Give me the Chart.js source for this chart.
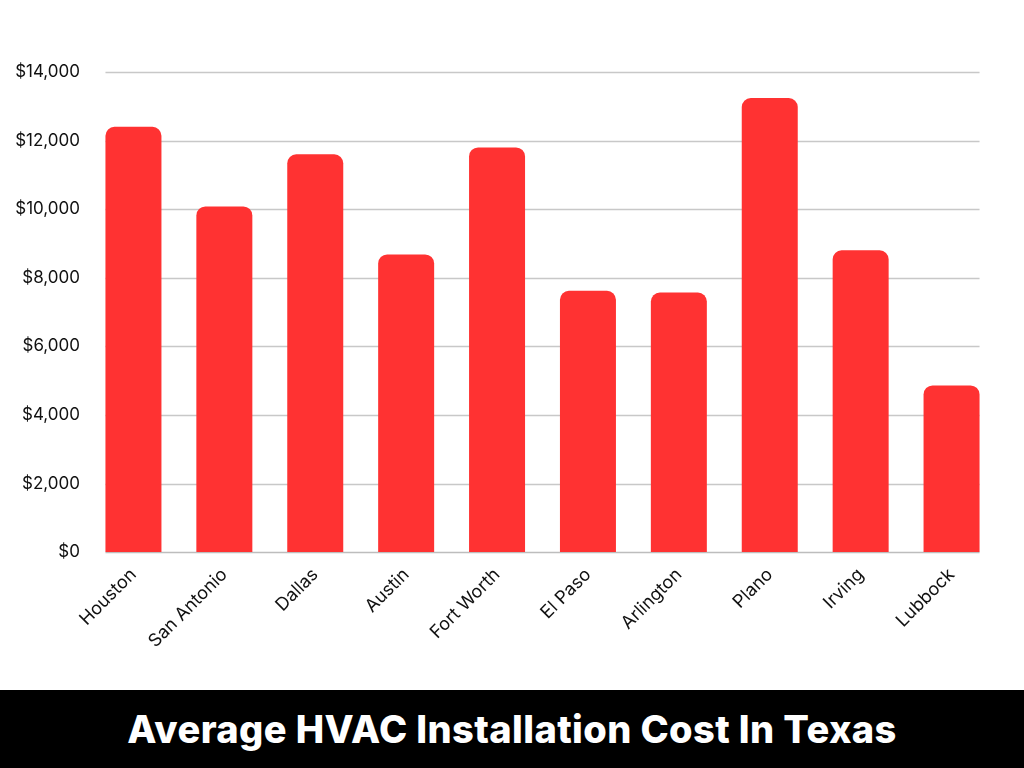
<!DOCTYPE html>
<html lang="en">
<head>
    <meta charset="UTF-8">
    <title>Average HVAC Installation Cost In Texas</title>
    <style>
        * { margin: 0; padding: 0; box-sizing: border-box; }
        html, body { width: 1024px; height: 768px; background: #fff; overflow: hidden; }
        .chart-wrap { position: relative; width: 1024px; height: 690px; }
        .title-bar {
            height: 78px;
            background: #000;
            color: #fff;
            display: flex;
            align-items: center;
            justify-content: center;
            font-family: Inter, "Open Sans", sans-serif;
            font-weight: 800;
            font-size: 38px;
            letter-spacing: 0.4px;
        }
    </style>
    <script src="https://cdn.jsdelivr.net/npm/chart.js"></script>
</head>
<body>
    <div class="chart-wrap"><canvas id="costChart"></canvas></div>
    <div class="title-bar">Average HVAC Installation Cost In Texas</div>

    <script>
        // city names and average install cost (USD)
        const cities = ['Houston', 'San Antonio', 'Dallas', 'Austin', 'Fort Worth',
                        'El Paso', 'Arlington', 'Plano', 'Irving', 'Lubbock'];
        const avgCost = [12400, 10080, 11600, 8680, 11800, 7620, 7570, 13240, 8800, 4860];
        const yMax = 14000;
        const yStep = 2000;

        const yFont = { family: 'Inter, "Open Sans", sans-serif', size: 17 };
        const xFont = { family: 'Inter, "Open Sans", sans-serif', size: 18 };

        // gridlines in the original only run from the first bar's left edge
        // to the last bar's right edge, so draw them here instead of grid.display
        const shortGrid = {
            id: 'shortGrid',
            beforeDatasetsDraw(chart) {
                const bars = chart.getDatasetMeta(0).data;
                if (!bars.length) return;
                const first = bars[0], last = bars[bars.length - 1];
                const x0 = first.x - first.width / 2;
                const x1 = last.x + last.width / 2;
                const y = chart.scales.y;
                const ctx = chart.ctx;
                ctx.save();
                y.ticks.forEach((t) => {
                    const py = Math.round(y.getPixelForValue(t.value)) + 0.5;
                    ctx.strokeStyle = t.value === 0 ? '#bdbdbd' : '#c8c8c8';
                    ctx.lineWidth = 1.5;
                    ctx.beginPath();
                    ctx.moveTo(x0, py);
                    ctx.lineTo(x1, py);
                    ctx.stroke();
                });
                ctx.restore();
            }
        };

        new Chart(document.getElementById('costChart'), {
            type: 'bar',
            data: {
                labels: cities,
                datasets: [{
                    data: avgCost,
                    backgroundColor: '#ff3232',
                    borderRadius: { topLeft: 9, topRight: 9 },
                    borderSkipped: 'bottom',
                    barPercentage: 0.8,
                    categoryPercentage: 0.77
                }]
            },
            options: {
                responsive: true,
                maintainAspectRatio: false,
                animation: false,
                layout: { padding: { top: 72, right: 27, left: 0, bottom: 34 } },
                plugins: { legend: { display: false }, tooltip: { enabled: false } },
                scales: {
                    x: {
                        grid: { display: false },
                        border: { display: false },
                        ticks: {
                            color: '#111',
                            font: xFont,
                            minRotation: 45,
                            maxRotation: 45,
                            padding: 4
                        }
                    },
                    y: {
                        min: 0,
                        max: yMax,
                        grid: { display: false },
                        border: { display: false },
                        afterFit: (axis) => { axis.width = 88; },
                        ticks: {
                            stepSize: yStep,
                            color: '#111',
                            font: yFont,
                            padding: 0,
                            callback: (v) => '$' + v.toLocaleString('en-US')
                        }
                    }
                }
            },
            plugins: [shortGrid]
        });
    </script>
</body>
</html>
